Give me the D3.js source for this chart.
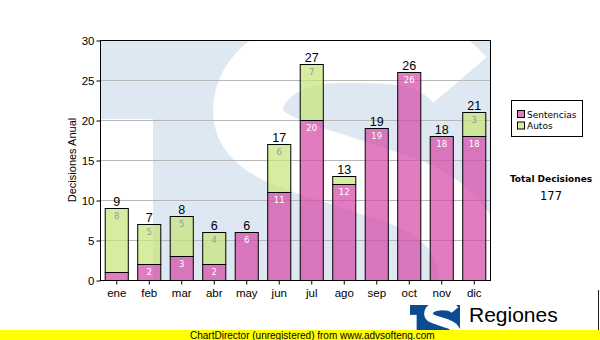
<!DOCTYPE html>
<html>
<head>
<meta charset="utf-8">
<script src="https://cdn.jsdelivr.net/npm/d3@7"></script>
<style>
  html, body { margin: 0; padding: 0; background: #fff; }
  svg { display: block; }
</style>
</head>
<body>
<svg id="chart" width="600" height="340"></svg>
<script>
// Monthly decisions, split by type
const months = ["ene", "feb", "mar", "abr", "may", "jun", "jul", "ago", "sep", "oct", "nov", "dic"];
const sentencias = [1, 2, 3, 2, 6, 11, 20, 12, 19, 26, 18, 18];
const autos = [8, 5, 5, 4, 0, 6, 7, 1, 0, 0, 0, 3];
const yTicks = [0, 5, 10, 15, 20, 25, 30];
const seriesNames = ["Sentencias", "Autos"];

const totals = months.map((m, i) => sentencias[i] + autos[i]);
const grandTotal = d3.sum(totals);

const W = 600, H = 340;
const plot = { left: 100, top: 40, right: 490, bottom: 280 };

const pinkFill = "rgb(214,74,168)";
const greenFill = "rgb(198,228,120)";
const wmBlue = "#dee8f2";
const logoBlue = "#0d4a94";

const svg = d3.select("#chart");

const x = d3.scaleBand()
  .domain(months)
  .range([plot.left, plot.right])
  .paddingInner(0.29)
  .paddingOuter(0.145);

const y = d3.scaleLinear()
  .domain([0, 30])
  .range([plot.bottom, plot.top]);

// The "TS" emblem: blue block, white notch under the T bar, white S stroke
function drawEmblem(g, blue) {
  g.append("rect").attr("x", 0).attr("y", 0).attr("width", 400).attr("height", 360).attr("fill", blue);
  g.append("rect").attr("x", 0).attr("y", 79).attr("width", 53).attr("height", 281).attr("fill", "#fff");
  g.append("path")
    .attr("d", "M 360,40 C 330,5 290,8 240,8 C 180,8 148,40 148,70 C 148,100 180,112 230,127 L 300,150 C 350,168 375,200 375,245 C 375,300 330,330 260,330 C 200,330 160,310 140,285")
    .attr("fill", "none")
    .attr("stroke", "#fff")
    .attr("stroke-width", 70);
}

const defs = svg.append("defs");
defs.append("clipPath").attr("id", "plotClip")
  .append("rect")
  .attr("x", plot.left).attr("y", plot.top)
  .attr("width", plot.right - plot.left).attr("height", plot.bottom - plot.top);
defs.append("clipPath").attr("id", "logoClip")
  .append("rect").attr("x", 0).attr("y", 0).attr("width", 400).attr("height", 360);

// Watermark behind the plot
const wm = svg.append("g").attr("clip-path", "url(#plotClip)")
  .append("g").attr("transform", `translate(${plot.left},${plot.top})`);
drawEmblem(wm, wmBlue);

// Horizontal grid
svg.append("g")
  .selectAll("line")
  .data(yTicks.filter(t => t > 0 && t < 30))
  .join("line")
  .attr("x1", plot.left).attr("x2", plot.right)
  .attr("y1", d => y(d)).attr("y2", d => y(d))
  .attr("stroke", "#b8b8b8")
  .attr("stroke-width", 1)
  .attr("shape-rendering", "crispEdges");

// Stacked bars
const stackData = months.map((m, i) => ({ month: m, Sentencias: sentencias[i], Autos: autos[i] }));
const stacked = d3.stack().keys(seriesNames)(stackData);
const fills = { Sentencias: pinkFill, Autos: greenFill };

const barsG = svg.append("g");
stacked.forEach(layer => {
  barsG.append("g")
    .selectAll("rect")
    .data(layer.filter(d => d[1] - d[0] > 0))
    .join("rect")
    .attr("x", d => x(d.data.month) + 0.5)
    .attr("y", d => Math.round(y(d[1])) + 0.5)
    .attr("width", x.bandwidth())
    .attr("height", d => Math.round(y(d[0])) - Math.round(y(d[1])))
    .attr("fill", fills[layer.key])
    .attr("fill-opacity", 0.72)
    .attr("stroke", "#000")
    .attr("stroke-width", 1);
});

// Segment values inside bars
stacked.forEach(layer => {
  barsG.append("g")
    .selectAll("text")
    .data(layer.filter(d => (d[1] - d[0]) > 1))
    .join("text")
    .attr("x", d => x(d.data.month) + x.bandwidth() / 2 + 0.5)
    .attr("y", d => y(d[1]) + 11)
    .attr("text-anchor", "middle")
    .attr("font-family", "'DejaVu Sans', Verdana, sans-serif")
    .attr("font-size", 8.5)
    .attr("fill", layer.key === "Sentencias" ? "#ffffff" : "#9a9a9a")
    .text(d => d[1] - d[0]);
});

// Totals above bars
svg.append("g")
  .selectAll("text")
  .data(months)
  .join("text")
  .attr("x", (m) => x(m) + x.bandwidth() / 2 + 0.5)
  .attr("y", (m, i) => y(totals[i]) - 2)
  .attr("text-anchor", "middle")
  .attr("font-family", "'Liberation Sans', Arial, sans-serif")
  .attr("font-size", 12.5)
  .attr("fill", "#000")
  .text((m, i) => totals[i]);

// Plot frame
svg.append("rect")
  .attr("x", plot.left + 0.5).attr("y", plot.top + 0.5)
  .attr("width", plot.right - plot.left).attr("height", plot.bottom - plot.top)
  .attr("fill", "none").attr("stroke", "#000").attr("stroke-width", 1);

// Y axis
const yAxis = svg.append("g")
  .attr("transform", `translate(${plot.left + 0.5},0.5)`)
  .call(d3.axisLeft(y).tickValues(yTicks).tickSize(4).tickPadding(2).tickSizeOuter(0));
yAxis.select(".domain").remove();
yAxis.selectAll("line").attr("stroke", "#000");
yAxis.selectAll("text")
  .attr("font-family", "'Liberation Sans', Arial, sans-serif")
  .attr("font-size", 11.5)
  .attr("fill", "#000");

// X axis
const xAxis = svg.append("g")
  .attr("transform", `translate(0.5,${plot.bottom + 0.5})`)
  .call(d3.axisBottom(x).tickSize(4).tickPadding(4).tickSizeOuter(0));
xAxis.select(".domain").remove();
xAxis.selectAll("line").attr("stroke", "#000");
xAxis.selectAll("text")
  .attr("font-family", "'Liberation Sans', Arial, sans-serif")
  .attr("font-size", 11.5)
  .attr("fill", "#000");

// Y axis title
svg.append("text")
  .attr("transform", "translate(76,160) rotate(-90)")
  .attr("text-anchor", "middle")
  .attr("font-family", "'Liberation Sans', Arial, sans-serif")
  .attr("font-size", 11)
  .attr("fill", "#000")
  .text("Decisiones Anual");

// Legend
const legend = svg.append("g");
legend.append("rect")
  .attr("x", 511.5).attr("y", 100.5).attr("width", 71).attr("height", 36)
  .attr("fill", "#fff").attr("stroke", "#000");
seriesNames.forEach((name, i) => {
  legend.append("rect")
    .attr("x", 517.5).attr("y", 110.5 + i * 11.5).attr("width", 7).attr("height", 7)
    .attr("fill", fills[name]).attr("fill-opacity", 0.72)
    .attr("stroke", "#000");
  legend.append("text")
    .attr("x", 527).attr("y", 117.5 + i * 11.5)
    .attr("font-family", "'DejaVu Sans', Verdana, sans-serif")
    .attr("font-size", 9)
    .attr("fill", "#000")
    .text(name);
});

// Grand total
svg.append("text")
  .attr("x", 551).attr("y", 182)
  .attr("text-anchor", "middle")
  .attr("font-family", "'DejaVu Sans', Verdana, sans-serif")
  .attr("font-weight", "bold")
  .attr("font-size", 9)
  .attr("fill", "#000")
  .text("Total Decisiones");
svg.append("text")
  .attr("x", 551).attr("y", 200)
  .attr("text-anchor", "middle")
  .attr("font-family", "'DejaVu Sans', Verdana, sans-serif")
  .attr("font-size", 11.5)
  .attr("fill", "#000")
  .text(grandTotal);

// Emblem and institution name at the foot
const logo = svg.append("g").attr("transform", "translate(410,305) scale(0.125)")
  .append("g").attr("clip-path", "url(#logoClip)");
drawEmblem(logo, logoBlue);

svg.append("text")
  .attr("x", 469).attr("y", 322)
  .attr("font-family", "'Liberation Sans', Arial, sans-serif")
  .attr("font-size", 21)
  .attr("fill", "#000")
  .text("Regiones");
svg.append("text")
  .attr("x", 469).attr("y", 337.5)
  .attr("font-family", "'Liberation Sans', Arial, sans-serif")
  .attr("font-size", 10.5)
  .attr("fill", "#000")
  .text("Tribunal Supremo de Justicia");
svg.append("line")
  .attr("x1", 598.5).attr("x2", 598.5).attr("y1", 290).attr("y2", 330)
  .attr("stroke", "#222");

// Footer banner
svg.append("rect")
  .attr("x", 0).attr("y", 330).attr("width", W).attr("height", 10)
  .attr("fill", "#ffff00");
svg.append("text")
  .attr("x", 190).attr("y", 338.5)
  .attr("font-family", "'Liberation Sans', Arial, sans-serif")
  .attr("font-size", 10)
  .attr("fill", "#000")
  .text("ChartDirector (unregistered) from www.advsofteng.com");
</script>
</body>
</html>
